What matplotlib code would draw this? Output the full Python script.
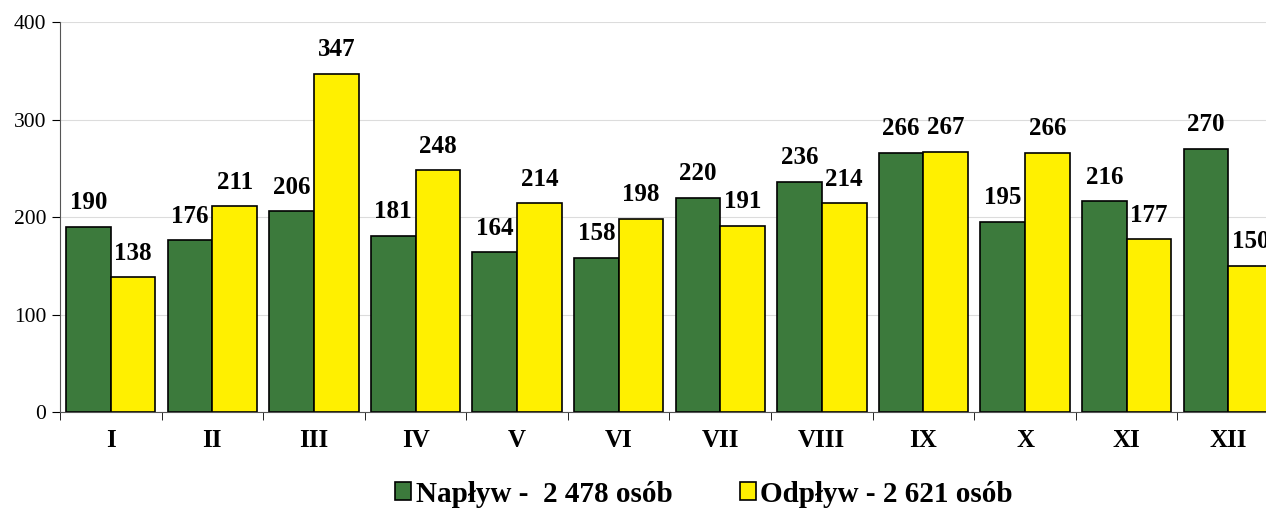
import matplotlib.pyplot as plt
import numpy as np

plt.rcParams['font.family'] = ['Liberation Serif', 'DejaVu Serif']

# dane
months = ['I', 'II', 'III', 'IV', 'V', 'VI', 'VII', 'VIII', 'IX', 'X', 'XI', 'XII']
naplyw = [190, 176, 206, 181, 164, 158, 220, 236, 266, 195, 216, 270]
odplyw = [138, 211, 347, 248, 214, 198, 191, 214, 267, 266, 177, 150]
legend_labels = ['Napływ -  2 478 osób', 'Odpływ - 2 621 osób']

green = '#3c7a3c'
yellow = '#fff000'

fig = plt.figure(figsize=(12.66, 5.11), dpi=100)
# os wychodzi poza prawa krawedz (obraz przyciety)
ax = fig.add_axes([60 / 1266, 1 - 412 / 511, 1219 / 1266, 390 / 511])

x = np.arange(len(months))
w = 0.44
b1 = ax.bar(x - w / 2, naplyw, w, color=green, edgecolor='black', linewidth=1.2, label=legend_labels[0])
b2 = ax.bar(x + w / 2, odplyw, w, color=yellow, edgecolor='black', linewidth=1.2, label=legend_labels[1])

for bars in (b1, b2):
    for r in bars:
        ax.annotate(str(int(r.get_height())), (r.get_x() + r.get_width() / 2, r.get_height()),
                    xytext=(0, 9), textcoords='offset points', ha='center', va='bottom',
                    fontsize=18, fontweight='bold', clip_on=False)

ax.set_xlim(-0.5, len(months) - 0.5)
ax.set_ylim(0, 400)
ax.set_yticks([0, 100, 200, 300, 400])
ax.tick_params(axis='y', labelsize=15.5, length=6, direction='out', pad=4)
ax.yaxis.grid(True, color='#dcdcdc', linewidth=0.8)
ax.set_axisbelow(True)

ax.set_xticks(x)
ax.set_xticklabels(months, fontsize=18, fontweight='bold')
ax.tick_params(axis='x', length=0, pad=12)
ax.set_xticks(np.arange(-0.5, len(months), 1), minor=True)
ax.tick_params(axis='x', which='minor', length=6, direction='out')

for s in ['top', 'right']:
    ax.spines[s].set_visible(False)
ax.spines['left'].set_color('#555555')
ax.spines['bottom'].set_color('#555555')

fig.legend(handles=[b1, b2], loc='center', bbox_to_anchor=(704 / 1266, 1 - 494 / 511), ncol=2,
           frameon=False, prop={'size': 21, 'weight': 'bold'}, handlelength=0.55, handleheight=0.55,
           handletextpad=0.15, columnspacing=2.3, borderpad=0)

fig.savefig('out.png', dpi=100)
